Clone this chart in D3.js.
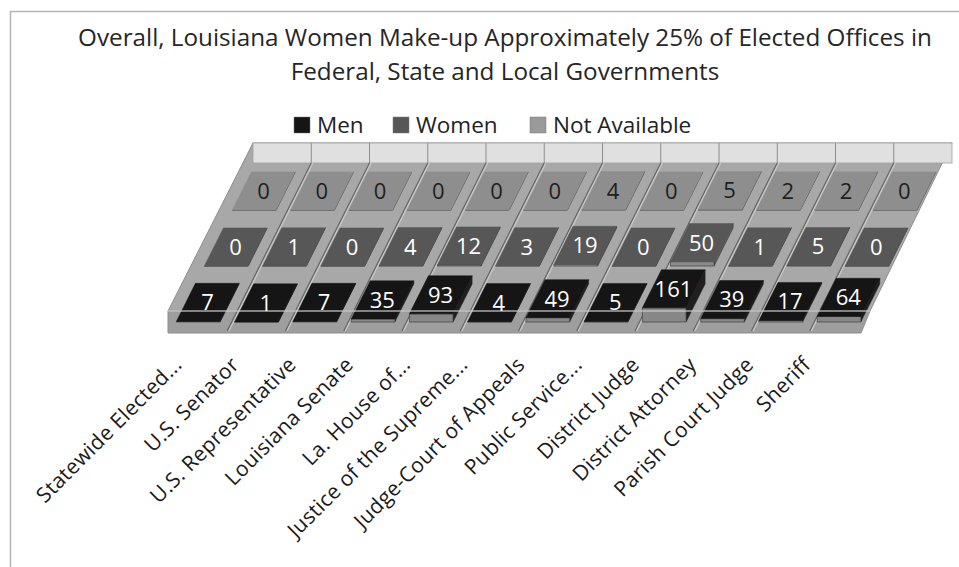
<!DOCTYPE html>
<html>
<head>
<meta charset="utf-8">
<title>Louisiana elected offices</title>
<style type="text/css">
  body { margin: 0; background: #fff; }
  svg text { font-family: "Open Sans", "Noto Sans", sans-serif; }
  .cat-label { font-size: 21px; letter-spacing: 0.3px; fill: #1a1a1a; }
  .val-label { font-size: 22px; }
</style>
</head>
<body>
<div id="chart"></div>
<script src="https://d3js.org/d3.v7.min.js"></script>
<script>
  // data
  var categories = ["Statewide Elected...", "U.S. Senator", "U.S. Representative",
                    "Louisiana Senate", "La. House of...", "Justice of the Supreme...",
                    "Judge-Court of Appeals", "Public Service...", "District Judge",
                    "District Attorney", "Parish Court Judge", "Sheriff"];
  var men          = [7, 1, 7, 35, 93, 4, 49, 5, 161, 39, 17, 64];
  var women        = [0, 1, 0, 4, 12, 3, 19, 0, 50, 1, 5, 0];
  var notAvailable = [0, 0, 0, 0, 0, 0, 4, 0, 5, 2, 2, 0];
  var seriesNames  = ["Men", "Women", "Not Available"];

  var width = 959, height = 567;
  var Y0 = 163,   // back edge of floor
      K = 0.5,    // how far x slides left per px of depth
      depth = 168;

  var series = [
    {name: "Not Available", values: notAvailable, top: "#8e8e8e", side: "#9a9a9a", front: "#9d9d9d", text: "#1e1e1e"},
    {name: "Women", values: women, top: "#575757", side: "#626262", front: "#8a8a8a", text: "#ffffff"},
    {name: "Men", values: men, top: "#151515", side: "#1f1f1f", front: "#878787", text: "#ffffff"}
  ];

  var svg = d3.select("#chart").append("svg")
      .attr("width", width).attr("height", height);

  // outer chart frame
  svg.append("path")
      .attr("d", "M10.5," + height + "V11.5H" + width)
      .attr("fill", "none").attr("stroke", "#b4b4b4").attr("stroke-width", 1.5);

  var x = d3.scaleBand().domain(categories).range([253, 952]);
  var z = d3.scaleBand().domain(series.map(function (s) { return s.name; }))
      .range([0, depth]).paddingInner(0.32).paddingOuter(0.16);
  var h = d3.scaleLinear().domain([0, 170]).range([0, 15]);
  // where the rotated category labels end (perspective squeezes them a bit)
  var labelX = d3.scalePoint().domain(categories).range([183, 812]);

  function proj(px, d, lift) {
    return [px - K * d, Y0 + d - (lift || 0)];
  }
  function poly(pts) { return "M" + pts.map(function (p) { return p.join(","); }).join("L") + "Z"; }

  // floor + walls
  svg.append("path")
      .attr("d", poly([[253, 143], [952, 143], [870, 311], [168, 311]]))
      .attr("fill", "#a8a8a8").attr("stroke", "#8e8e8e");
  svg.append("path")
      .attr("d", poly([[168, 311], [870, 311], [861, 333], [168, 333]]))
      .attr("fill", "#9e9e9e").attr("stroke", "#8e8e8e");
  svg.append("rect")
      .attr("x", 253).attr("y", 143).attr("width", 699).attr("height", 20)
      .attr("fill", "#e0e0e0").attr("stroke", "#a0a0a0").attr("stroke-width", 0.8);

  var dividers = categories.slice(1);
  svg.append("g").selectAll("line").data(dividers).join("line")
      .attr("x1", function (c) { return x(c); }).attr("x2", function (c) { return x(c); })
      .attr("y1", 143).attr("y2", 163)
      .attr("stroke", "#8c8c8c");

  // floor grid: dark edge plus a light edge next to it
  var grid = svg.append("g");
  grid.selectAll("path.dark").data(dividers).join("path")
      .attr("class", "dark")
      .attr("d", function (c) { return "M" + proj(x(c), 0) + "L" + proj(x(c), depth); })
      .attr("stroke", "#666").attr("stroke-width", 1.3).attr("fill", "none");
  grid.selectAll("path.light").data(dividers).join("path")
      .attr("class", "light")
      .attr("d", function (c) { return "M" + proj(x(c) + 1.6, 0) + "L" + proj(x(c) + 1.6, depth); })
      .attr("stroke", "#c8c8c8").attr("stroke-width", 1.3).attr("fill", "none");

  // bars, back row first
  var bw = x.bandwidth();
  series.forEach(function (s) {
    var d1 = z(s.name), d2 = d1 + z.bandwidth();
    var g = svg.append("g");
    categories.forEach(function (c, i) {
      var a = x(c) + 0.05 * bw, b = a + 0.75 * bw, lift = h(s.values[i]);
      g.append("path").attr("d", poly([proj(b, d1, lift), proj(b, d2, lift), proj(b, d2, 0), proj(b, d1, 0)]))
          .attr("fill", s.side).attr("stroke", "#222").attr("stroke-width", 0.5);
      g.append("path").attr("d", poly([proj(a, d2, lift), proj(b, d2, lift), proj(b, d2, 0), proj(a, d2, 0)]))
          .attr("fill", s.front).attr("stroke", "#333").attr("stroke-width", 0.6);
      g.append("path").attr("d", poly([proj(a, d1, lift), proj(b, d1, lift), proj(b, d2, lift), proj(a, d2, lift)]))
          .attr("fill", s.top).attr("stroke", s.top).attr("stroke-width", 0.5);
    });
  });

  // light edge across the front of the floor
  svg.append("line").attr("x1", 168).attr("x2", 870).attr("y1", 311).attr("y2", 311)
      .attr("stroke", "#cfcfcf").attr("stroke-width", 1.5).attr("opacity", 0.8);

  // value labels
  series.forEach(function (s) {
    var dm = z(s.name) + z.bandwidth() / 2;
    svg.append("g").selectAll("text").data(s.values).join("text")
        .attr("class", "val-label")
        .attr("x", function (v, i) { return proj(x(categories[i]) + 0.42 * bw, dm, h(v))[0]; })
        .attr("y", function (v, i) { return proj(0, dm, h(v))[1]; })
        .attr("dy", "0.36em")
        .attr("text-anchor", "middle")
        .attr("fill", s.text)
        .text(function (v) { return v; });
  });

  // category labels
  svg.append("g").selectAll("text").data(categories).join("text")
      .attr("class", "cat-label")
      .attr("text-anchor", "end")
      .attr("transform", function (c) {
        return "translate(" + labelX(c) + ",366) rotate(-45)";
      })
      .text(function (c) { return c; });

  // title
  var titleLines = ["Overall, Louisiana Women Make-up Approximately 25% of Elected Offices in",
                    "Federal, State and Local Governments"];
  var title = svg.append("g").selectAll("text").data(titleLines).join("text")
      .attr("x", 505).attr("y", function (d, i) { return 46 + i * 34; })
      .attr("text-anchor", "middle").attr("fill", "#262626")
      .style("font-size", "22px")
      .text(function (d) { return d; });
  var w0 = title.node().getComputedTextLength();
  title.style("font-size", (22 * 854 / w0).toFixed(2) + "px");

  // legend
  var legendX = [294, 393, 530];
  var legendColors = ["#151515", "#575757", "#9a9a9a"];
  var legend = svg.append("g").selectAll("g").data(seriesNames).join("g")
      .attr("transform", function (d, i) { return "translate(" + legendX[i] + ",117)"; });
  legend.append("rect").attr("width", 16).attr("height", 16)
      .attr("fill", function (d, i) { return legendColors[i]; })
      .attr("stroke", "#777").attr("stroke-width", 0.5);
  legend.append("text").attr("x", 23).attr("y", 15.5)
      .style("font-size", "22.5px").attr("fill", "#222")
      .text(function (d) { return d; });
</script>
</body>
</html>
